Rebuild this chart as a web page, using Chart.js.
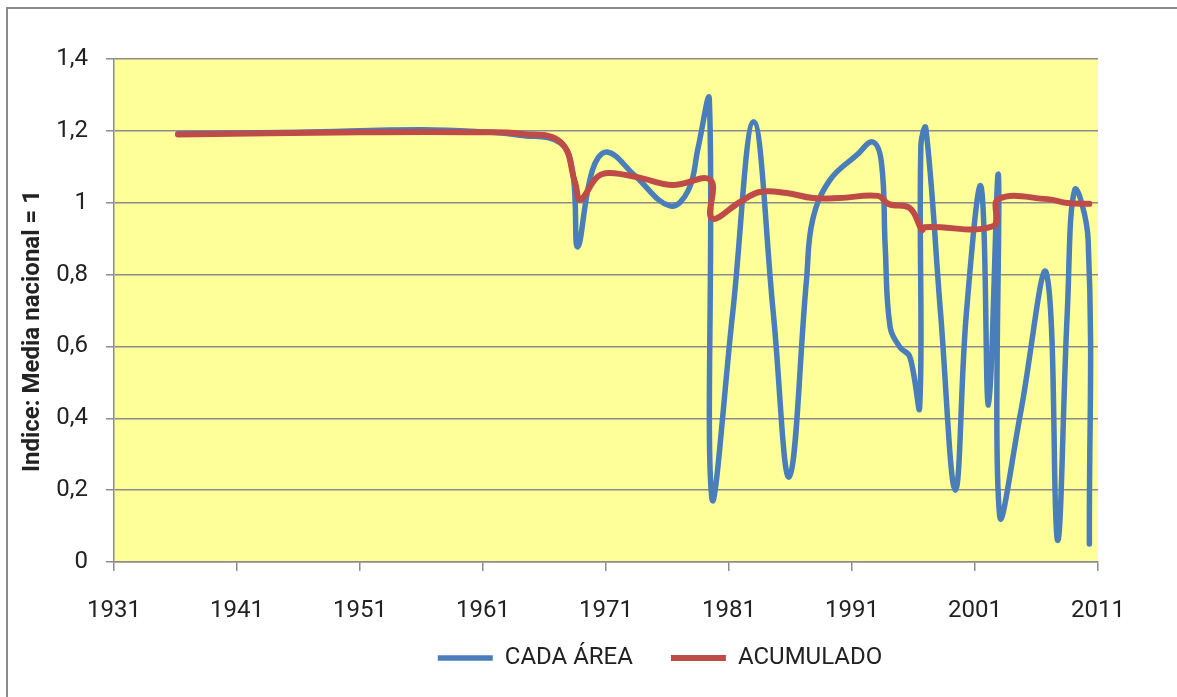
<!DOCTYPE html>
<html>
<head>
<meta charset="utf-8">
<script src="https://cdn.jsdelivr.net/npm/chart.js@4"></script>
<style>
  body { margin: 0; background: #fff; overflow: hidden; }
  #wrap { position: relative; width: 1177px; height: 697px; }
  #frame { position: absolute; left: 6px; top: 7px; width: 1300px; height: 800px;
           border: 2px solid #8a8a8a; pointer-events: none; }
</style>
</head>
<body>
<div id="wrap">
  <canvas id="myChart" width="1177" height="697"></canvas>
  <div id="frame"></div>
</div>
<script>
// data
const areaYears = [1936.2, 1946, 1956, 1961, 1964.0, 1967.3, 1968.3, 1968.7, 1969.9, 1971.1,
  1973.3, 1976.2, 1977.7, 1978.5, 1979.4, 1979.6, 1981.3, 1983.0, 1984.6, 1985.9,
  1987.3, 1987.8, 1989.2, 1991.4, 1992.7, 1993.4, 1993.7, 1994.1, 1994.9, 1995.7,
  1996.5, 1996.6, 1997.0, 1998.2, 1999.4, 2000.3, 2001.5, 2002.1, 2002.9, 2003.0,
  2004.7, 2006.8, 2007.7, 2008.5, 2009.1, 2010.2, 2010.3];
const areaValues = [1.192, 1.196, 1.203, 1.197, 1.188, 1.166, 1.083, 0.877, 1.091, 1.141,
  1.077, 0.991, 1.035, 1.155, 1.286, 0.18, 0.693, 1.225, 0.693, 0.237,
  0.785, 0.952, 1.063, 1.133, 1.169, 1.11, 0.877, 0.654, 0.598, 0.571,
  0.431, 1.16, 1.208, 0.693, 0.20, 0.693, 1.044, 0.437, 1.077, 0.13,
  0.414, 0.804, 0.061, 0.693, 1.035, 0.896, 0.05];

const accYears = [1936.2, 1951, 1961, 1964.0, 1967.3, 1968.5, 1968.9, 1970.3, 1971.3, 1973.8,
  1976.4, 1979.5, 1979.6, 1981.9, 1983.5, 1985.7, 1987.8, 1990, 1993.1, 1994,
  1995.7, 1996.7, 1996.9, 2002.5, 2002.9, 2006.9, 2008.5, 2010.3];
const accValues = [1.19, 1.196, 1.196, 1.192, 1.169, 1.055, 1.008, 1.072, 1.083, 1.069,
  1.049, 1.063, 0.957, 1.002, 1.03, 1.027, 1.013, 1.013, 1.019, 0.996,
  0.985, 0.924, 0.932, 0.935, 1.01, 1.01, 0.999, 0.997];

const seriesNames = ["CADA ÁREA", "ACUMULADO"];
const xTicks = [1931, 1941, 1951, 1961, 1971, 1981, 1991, 2001, 2011];
const yTicks = [0, 0.2, 0.4, 0.6, 0.8, 1, 1.2, 1.4];
const yTitle = "Indice: Media nacional = 1";

const FONT = "Roboto";
const textColor = "#222222";
const gridColor = "#8c8c8c";

const toPoints = (xs, ys) => xs.map((x, i) => ({ x: x, y: ys[i] }));

const plotBackground = {
  id: "plotBackground",
  beforeDraw(chart) {
    const { ctx, chartArea: a } = chart;
    ctx.save();
    ctx.fillStyle = "#ffff99";
    ctx.fillRect(a.left, a.top, a.right - a.left, a.bottom - a.top);
    ctx.restore();
  },
  afterLayout(chart) {
    // Excel puts the legend a bit right of centre and close under the axis labels
    const lg = chart.legend;
    lg.left += 222;
    const dy = 608 - lg.top;
    lg.top += dy;
    lg.bottom += dy;
  },
  afterDraw(chart) {
    const ctx = chart.ctx;
    ctx.save();
    ctx.translate(33, 331);
    ctx.rotate(-Math.PI / 2);
    ctx.font = "bold 24px " + FONT;
    ctx.fillStyle = textColor;
    ctx.textAlign = "center";
    ctx.textBaseline = "middle";
    ctx.fillText(yTitle, 0, 0);
    ctx.restore();
  },
};

const ctx = document.getElementById("myChart").getContext("2d");
const myChart = new Chart(ctx, {
  type: "line",
  data: {
    datasets: [
      {
        label: seriesNames[0],
        data: toPoints(areaYears, areaValues),
        borderColor: "#4a7ebb",
        backgroundColor: "#4a7ebb",
        borderWidth: 5.5,
        borderCapStyle: "round",
        borderJoinStyle: "round",
        pointRadius: 0,
        tension: 0.4,
        order: 2,
      },
      {
        label: seriesNames[1],
        data: toPoints(accYears, accValues),
        borderColor: "#be4b48",
        backgroundColor: "#be4b48",
        borderWidth: 6,
        borderCapStyle: "round",
        borderJoinStyle: "round",
        pointRadius: 0,
        tension: 0.4,
        order: 1,
      },
    ],
  },
  options: {
    responsive: false,
    animation: false,
    layout: { padding: { top: 59, right: 79, left: 0, bottom: 0 } },
    scales: {
      x: {
        type: "linear",
        min: 1931,
        max: 2011,
        afterBuildTicks: (scale) => { scale.ticks = xTicks.map((v) => ({ value: v })); },
        afterFit: (scale) => { scale.height = 63; },
        grid: { drawOnChartArea: false, drawTicks: true, tickLength: 9, color: gridColor, lineWidth: 1.5 },
        border: { color: gridColor, width: 1.5 },
        ticks: {
          padding: 26,
          color: textColor,
          font: { family: FONT, size: 24 },
          maxRotation: 0,
          callback: (v) => String(v),
        },
      },
      y: {
        min: 0,
        max: 1.4,
        afterBuildTicks: (scale) => { scale.ticks = yTicks.map((v) => ({ value: v })); },
        afterFit: (scale) => { scale.width = 114; },
        grid: { color: gridColor, lineWidth: 1.5, drawTicks: true, tickLength: 8 },
        border: { color: gridColor, width: 1.5 },
        ticks: {
          padding: 18,
          color: textColor,
          font: { family: FONT, size: 24 },
          callback: (v) => Math.abs(v - Math.round(v)) < 1e-9 ? String(Math.round(v)) : v.toFixed(1).replace(".", ","),
        },
      },
    },
    plugins: {
      legend: {
        position: "bottom",
        labels: {
          usePointStyle: true,
          pointStyle: "line",
          pointStyleWidth: 55,
          padding: 38,
          color: textColor,
          font: { family: FONT, size: 24 },
          sort: (a, b) => a.datasetIndex - b.datasetIndex,
        },
      },
      tooltip: { enabled: false },
    },
  },
  plugins: [plotBackground],
});
</script>
</body>
</html>
